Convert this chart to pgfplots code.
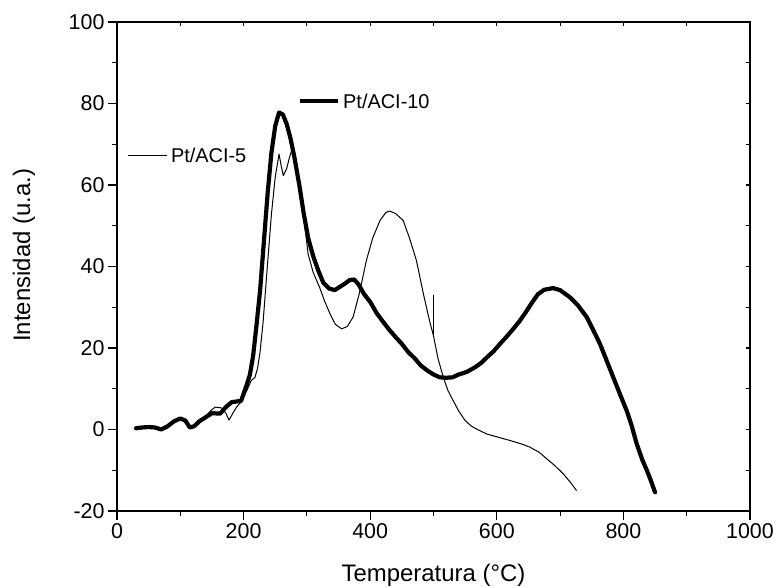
\documentclass[border=0pt]{standalone}
\usepackage{pgfplots}
\pgfplotsset{compat=1.18}
\usepackage{fontspec}
\setmainfont{Liberation Sans}
\usetikzlibrary{calc}

\pgfplotstableread{
x y
30 0.3
40 0.5
50 0.6
60 0.5
70 0.0
80 0.8
90 2.0
100 2.7
108 2.2
115 0.5
122 0.8
130 2.0
140 3.0
150 4.0
163 3.9
172 5.5
181 6.7
190 6.9
196 7.0
205 11
210 13.5
215 18
220 25
226 34
232 46
238 58
244 68
250 74.5
256 77.8
262 77.3
268 75
274 71.5
280 67
288 60
295 53
302 47
310 42.5
318 39
326 36
335 34.6
344 34.2
352 35
360 35.8
368 36.7
375 36.8
382 35.5
390 33.3
400 31.3
410 28.6
420 26.5
430 24.5
440 22.7
450 21
460 19
470 17.5
480 15.7
490 14.5
500 13.5
510 12.8
520 12.7
530 12.8
540 13.5
552 14.1
565 15.2
575 16.3
585 17.8
595 19.2
605 21
615 22.7
625 24.5
635 26.4
645 28.6
655 31
665 33.2
675 34.3
689 34.7
700 34.2
715 32.5
728 30.5
742 27.6
752 24.5
763 21
772 17.5
784 12.8
795 8.5
805 4.7
812 1.5
821 -3.5
830 -7.5
837 -10
844 -12.8
850 -15.4
}\tenrows

\pgfplotstableread{
x y
30 0.3
40 0.5
50 0.6
60 0.5
70 0.0
80 0.8
90 2.0
100 2.7
108 2.2
115 0.5
122 0.8
130 2.0
140 3.2
148 4.6
155 5.5
165 5.3
172 4.0
177 2.3
183 4.0
189 5.5
196 6.8
205 9.5
212 12
218 12.8
222 15
226 19
231 26.7
237 39
244 52.9
250 62
256 67.6
259 65
262.7 62.3
268 64
272 66.5
276 68.5
281 67.5
285 64
289 60.3
295 52
302 43
310 38.5
320 34.9
328 31.5
336.5 28.4
345 25.8
355 24.7
364 25.3
373 27.6
383 33.5
394 41.5
404 47
415.5 51.3
425 53.3
431 53.6
440 53
452 51.3
462 47
473 41.5
484 33.3
494 26.5
500 23
500 33
500 23
507 17.5
515.5 12.8
523 9.5
531 7.1
540 4.5
550 2.2
560 0.8
572 -0.2
584 -1.1
600 -1.8
621 -2.7
640 -3.6
652 -4.3
667 -5.6
679 -7.2
692 -8.9
705 -10.9
716 -12.9
726 -15
}\fiverows

\begin{document}
\begin{tikzpicture}
\begin{axis}[
  name=main,
  scale only axis,
  width=633bp, height=489bp,
  xmin=0, xmax=1000, ymin=-20, ymax=100,
  xtick={0,200,...,1000}, ytick={-20,0,...,100},
  minor x tick num=1, minor y tick num=1,
  xtick pos=lower, ytick pos=left,
  tick align=outside,
  major tick length=9bp, minor tick length=5bp,
  every tick/.style={black, line width=1.2pt},
  axis line style={line width=1.3pt},
  /pgf/number format/assume math mode=true,
  /pgf/number format/1000 sep={},
  tick label style={font=\fontsize{21.5}{25}\selectfont},
  label style={font=\fontsize{24}{28}\selectfont},
  xlabel={Temperatura (°C)},
  ylabel={Intensidad (u.a.)},
  xlabel style={at={(axis description cs:0.5,0)}, anchor=base, yshift=-70bp},
  ylabel style={at={(axis description cs:-0.147,0.523)}, anchor=center},
  clip=false,
]
\addplot[black, line width=1pt, line join=round] table {\fiverows};
\addplot[black, line width=4.2pt, line join=round, line cap=round] table {\tenrows};
\addplot[black, line width=4.2pt] coordinates {(289,80.6) (349,80.6)};
\addplot[black, line width=1pt] coordinates {(17.4,67.2) (79,67.2)};
\node[anchor=west, inner sep=0pt, font=\fontsize{20}{24}\selectfont] at (axis cs:357,80.6) {Pt/ACI-10};
\node[anchor=west, inner sep=0pt, font=\fontsize{20}{24}\selectfont] at (axis cs:85,67.2) {Pt/ACI-5};
\end{axis}
\begin{axis}[
  scale only axis,
  width=633bp, height=489bp,
  xmin=0, xmax=1000, ymin=-20, ymax=100,
  xtick={0,200,...,1000}, ytick={-20,0,...,100},
  minor x tick num=1, minor y tick num=1,
  xtick pos=upper, ytick pos=right,
  tick align=inside,
  major tick length=4bp, minor tick length=4bp,
  every tick/.style={black, line width=1.2pt},
  axis line style={line width=1.3pt},
  xticklabels={}, yticklabels={},
]
\end{axis}
\pgfresetboundingbox
\path[use as bounding box] ($(main.south west)+(-117bp,-76bp)$) rectangle ($(main.north east)+(26bp,22bp)$);
\end{tikzpicture}
\end{document}
